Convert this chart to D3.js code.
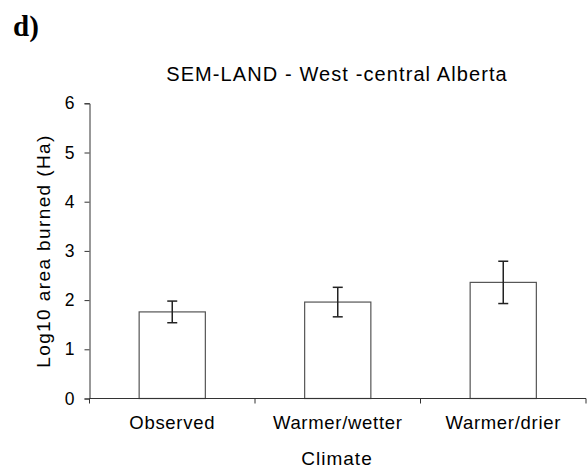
<!DOCTYPE html>
<html><head><meta charset="utf-8">
<script src="https://cdn.jsdelivr.net/npm/d3@7"></script>
<style>body{margin:0;background:#fff}svg{display:block}text{font-family:"Liberation Sans",Arial,sans-serif;fill:#000}</style>
</head><body><svg id="c" width="587" height="473"></svg>
<script>
const categories = ["Observed", "Warmer/wetter", "Warmer/drier"];
const means = [1.76, 1.96, 2.36];
const errors = [0.22, 0.30, 0.43];
const yTicks = [0, 1, 2, 3, 4, 5, 6];

const svg = d3.select("#c");
const x0 = 89.5, x1 = 586, yTop = 103.3, yBot = 398.5;
const x = d3.scaleBand().domain(categories).range([x0, x1]).paddingInner(0).paddingOuter(0);
const y = d3.scaleLinear().domain([0, 6]).range([yBot, yTop]);
const barW = x.bandwidth() * 0.4;

// bars
svg.append("g").selectAll("rect").data(categories).join("rect")
  .attr("x", d => x(d) + x.bandwidth()/2 - barW/2)
  .attr("y", (d,i) => y(means[i]))
  .attr("width", barW)
  .attr("height", (d,i) => y(0) - y(means[i]))
  .attr("fill", "#fff").attr("stroke", "#555").attr("stroke-width", 1.2);

// error bars
const eg = svg.append("g").attr("stroke", "#222").attr("stroke-width", 1.5);
categories.forEach((c, i) => {
  const cx = x(c) + x.bandwidth()/2;
  eg.append("line").attr("x1", cx).attr("x2", cx).attr("y1", y(means[i]+errors[i])).attr("y2", y(means[i]-errors[i]));
  [means[i]+errors[i], means[i]-errors[i]].forEach(v => {
    eg.append("line").attr("x1", cx-5).attr("x2", cx+5).attr("y1", y(v)).attr("y2", y(v));
  });
});

// y axis
const yAxis = d3.axisLeft(y).tickValues(yTicks).tickSize(5).tickPadding(10).tickFormat(d3.format("d"));
const gy = svg.append("g").attr("transform", `translate(${x0},0)`).call(yAxis);
gy.select(".domain").attr("stroke", "#333");
gy.selectAll(".tick line").attr("stroke", "#333");
gy.selectAll(".tick text").style("font-size", "17.5px").attr("font-family", null);

// x axis
const xAxis = d3.axisBottom(x).tickSize(0).tickPadding(17);
const gx = svg.append("g").attr("transform", `translate(0,${yBot})`).call(xAxis);
gx.select(".domain").attr("stroke", "#333").attr("d", `M${x0},0H${x1}`);
gx.selectAll(".tick text").style("font-size", "18.5px").style("letter-spacing", "0.7px").attr("font-family", null);
// band boundary ticks
const bounds = categories.map(c => x(c)).concat([x1]);
gx.selectAll("line.bt").data(bounds).join("line").attr("class","bt")
  .attr("x1", d => d).attr("x2", d => d).attr("y1", 0).attr("y2", 5).attr("stroke", "#333");

// titles
svg.append("text").attr("x", 337).attr("y", 81).attr("text-anchor", "middle").style("font-size", "20px")
  .style("letter-spacing", "1.1px").text("SEM-LAND - West -central Alberta");
svg.append("text").attr("x", 337).attr("y", 465).attr("text-anchor", "middle").style("font-size", "19px")
  .style("letter-spacing", "1px").text("Climate");
svg.append("text").attr("transform", "translate(50,251) rotate(-90)").attr("text-anchor", "middle").style("font-size", "19px")
  .style("letter-spacing", "1.4px").text("Log10 area burned (Ha)");
svg.append("text").attr("x", 13).attr("y", 36).style("font-family", "'Liberation Serif','Times New Roman',serif")
  .style("font-weight", "bold").style("font-size", "29px").text("d)");
</script></body></html>
